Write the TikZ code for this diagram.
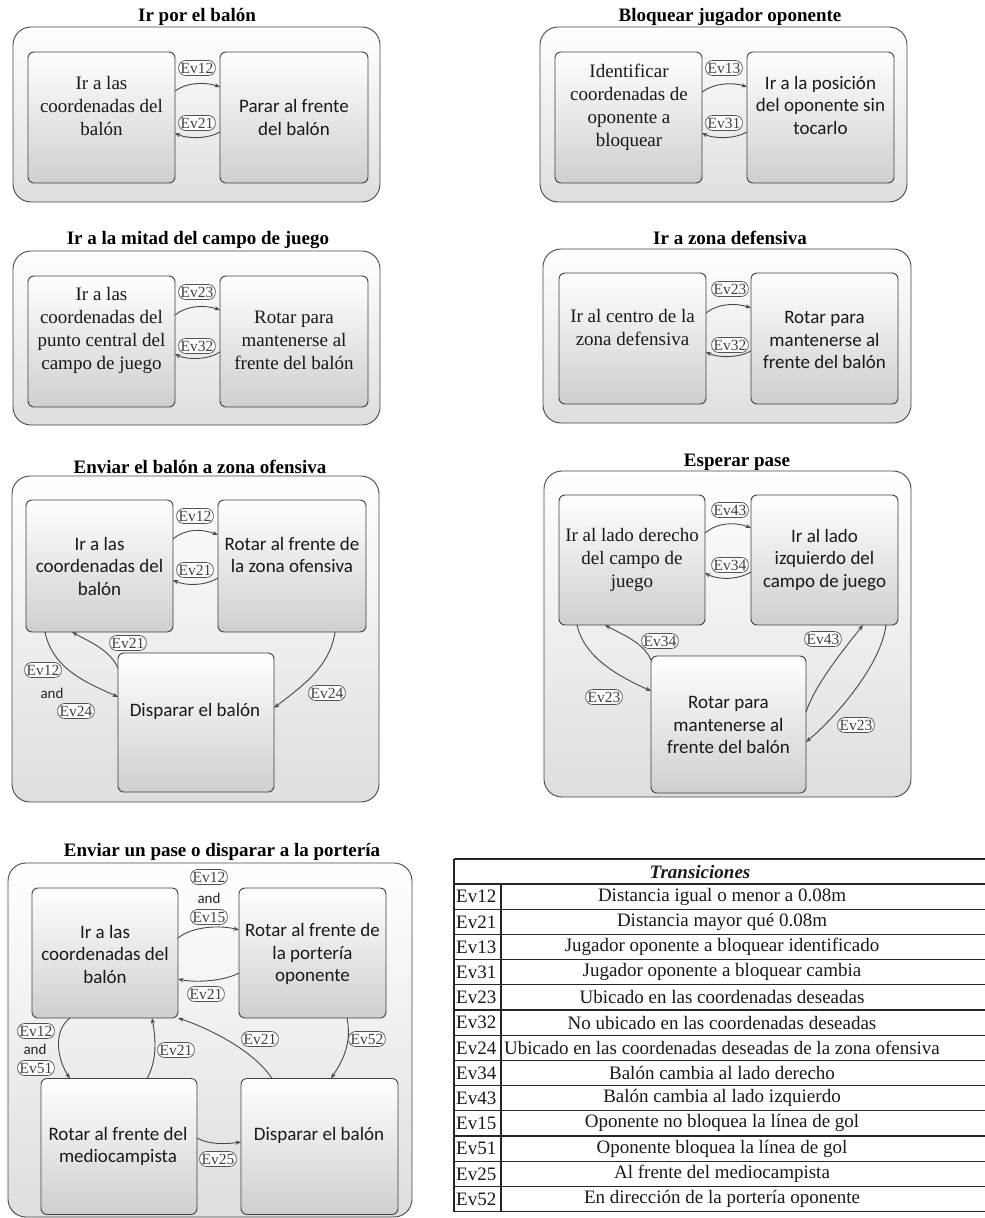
\documentclass[tikz,border=0pt]{standalone}
\usepackage{fontspec}
\setmainfont{Liberation Serif}
\newfontfamily\tms{Liberation Serif}
\newfontfamily\calib{Carlito}
\usetikzlibrary{arrows.meta}

\tikzset{
  panel/.style={draw=black!72, line width=0.9pt, rounded corners=18pt,
    top color=white, bottom color=black!13, inner sep=0pt, outer sep=0pt},
  stbox/.style={draw=black!75, line width=0.9pt, rounded corners=6pt,
    top color=white, bottom color=black!19, inner sep=0pt, outer sep=0pt},
  ptitle/.style={font=\tms\bfseries\fontsize{19}{22}\selectfont, text=black, inner sep=0pt},
  boxserif/.style={font=\tms\fontsize{19}{23}\selectfont, align=center, text=black!90, inner sep=0pt},
  boxsans/.style={font=\calib\fontsize{19}{22.5}\selectfont, align=center, text=black!90, inner sep=0pt},
  ev/.style={draw=black!68, line width=0.7pt, fill=white, rounded corners=7pt,
    font=\tms\fontsize{15.5}{15.5}\selectfont, inner xsep=2pt, inner ysep=0pt,
    minimum height=15pt, text=black!75},
  andtxt/.style={font=\calib\fontsize{15}{15}\selectfont, text=black!85, inner sep=0pt},
  trans/.style={draw=black!72, line width=0.9pt, -{Stealth[length=5.5pt,width=4.2pt]}},
  cell/.style={font=\tms\fontsize{19}{19}\selectfont, text=black!90, inner sep=0pt},
  tgrid/.style={draw=black!85, line width=1.2pt}
}

\begin{document}
\begin{tikzpicture}[x=1pt, y=-1pt]
\path[use as bounding box, fill=white] (0,0) rectangle (985,1218);

% ---------------- Ir por el balón ----------------
\node[ptitle] (ti1) at (197,17) {Ir por el balón};
\node[panel, minimum width=367pt, minimum height=175pt] (o1) at (196.5,114.5) {};
\node[stbox, minimum width=147pt, minimum height=131pt] (p1a) at (101.5,117.5) {};
\node[stbox, minimum width=148pt, minimum height=131pt] (p1b) at (294,117.5) {};
\node[boxserif] (t1a) at (101.5,106) {Ir a las\\coordenadas del\\balón};
\node[boxsans] (t1b) at (294,117.5) {Parar al frente\\del balón};
\draw[trans] (p1a.east |- 0,91) .. controls +(12,-9) and +(-14,-5) .. (p1b.west |- 0,87);
\draw[trans] (p1b.west |- 0,132) .. controls +(-12,7) and +(12,6) .. (p1a.east |- 0,133);
\node[ev] (e1a) at (197,68) {Ev12};
\node[ev] (e1b) at (197,123) {Ev21};

% ---------------- Bloquear jugador oponente ----------------
\node[ptitle] (ti2) at (730,17) {Bloquear jugador oponente};
\node[panel, minimum width=367pt, minimum height=175pt] (o2) at (723.5,114.5) {};
\node[stbox, minimum width=147pt, minimum height=131pt] (p2a) at (628.5,117.5) {};
\node[stbox, minimum width=147pt, minimum height=131pt] (p2b) at (820.5,117.5) {};
\node[boxserif] (t2a) at (629,107) {Identificar\\coordenadas de\\oponente a\\bloquear};
\node[boxsans] (t2b) at (820.5,105) {Ir a la posición\\del oponente sin\\tocarlo};
\draw[trans] (p2a.east |- 0,92) .. controls +(12,-9) and +(-14,-5) .. (p2b.west |- 0,87);
\draw[trans] (p2b.west |- 0,132) .. controls +(-12,7) and +(12,6) .. (p2a.east |- 0,133);
\node[ev] (e2a) at (724,68) {Ev13};
\node[ev] (e2b) at (724,123) {Ev31};

% ---------------- Ir a la mitad del campo de juego ----------------
\node[ptitle] (ti3) at (198,240) {Ir a la mitad del campo de juego};
\node[panel, minimum width=367pt, minimum height=174pt] (o3) at (196.5,338) {};
\node[stbox, minimum width=147pt, minimum height=131pt] (p3a) at (101.5,341.5) {};
\node[stbox, minimum width=148pt, minimum height=131pt] (p3b) at (294,341.5) {};
\node[boxserif] (t3a) at (101.5,330) {Ir a las\\coordenadas del\\punto central del\\campo de juego};
\node[boxserif] (t3b) at (294,340) {Rotar para\\mantenerse al\\frente del balón};
\draw[trans] (p3a.east |- 0,315) .. controls +(12,-10) and +(-14,-5) .. (p3b.west |- 0,310);
\draw[trans] (p3b.west |- 0,352) .. controls +(-12,8) and +(12,6) .. (p3a.east |- 0,354);
\node[ev] (e3a) at (197,292) {Ev23};
\node[ev] (e3b) at (197,346) {Ev32};

% ---------------- Ir a zona defensiva ----------------
\node[ptitle] (ti4) at (730,238) {Ir a zona defensiva};
\node[panel, minimum width=368pt, minimum height=174pt] (o4) at (727,336) {};
\node[stbox, minimum width=147pt, minimum height=131pt] (p4a) at (632.5,338.5) {};
\node[stbox, minimum width=147pt, minimum height=131pt] (p4b) at (824.5,338.5) {};
\node[boxserif] (t4a) at (632.5,327.5) {Ir al centro de la\\zona defensiva};
\node[boxsans] (t4b) at (824.5,340) {Rotar para\\mantenerse al\\frente del balón};
\draw[trans] (p4a.east |- 0,313) .. controls +(12,-10) and +(-14,-5) .. (p4b.west |- 0,308);
\draw[trans] (p4b.west |- 0,351) .. controls +(-12,7) and +(12,6) .. (p4a.east |- 0,352);
\node[ev] (e4a) at (730,289) {Ev23};
\node[ev] (e4b) at (730,345) {Ev32};

% ---------------- Enviar el balón a zona ofensiva ----------------
\node[ptitle] (ti5) at (200,467) {Enviar el balón a zona ofensiva};
\node[panel, minimum width=367pt, minimum height=326pt] (o5) at (195.5,639) {};
\node[stbox, minimum width=147pt, minimum height=132pt] (p5a) at (99.5,566) {};
\node[stbox, minimum width=148pt, minimum height=132pt] (p5b) at (292,566) {};
\node[stbox, minimum width=156pt, minimum height=139pt] (p5c) at (196,722.5) {};
\node[boxsans] (t5a) at (99.5,566) {Ir a las\\coordenadas del\\balón};
\node[boxsans] (t5b) at (292,555) {Rotar al frente de\\la zona ofensiva};
\node[boxsans] (t5c) at (195,711) {Disparar el balón};
\draw[trans] (p5a.east |- 0,539) .. controls +(13,-11) and +(-15,-6) .. (p5b.west |- 0,535);
\draw[trans] (p5b.west |- 0,578) .. controls +(-13,8) and +(13,6) .. (p5a.east |- 0,580);
\draw[trans] (p5a.south -| 45,0) .. controls +(8,38) and +(-30,-14) .. (p5c.west |- 0,697);
\draw[trans] (p5c.west |- 0,668) .. controls +(-8,-18) and +(18,10) .. (p5a.south -| 72,0);
\draw[trans] (p5b.south -| 335,0) .. controls +(-5,35) and +(28,-22) .. (p5c.east |- 0,708);
\node[ev] (e5a) at (195,516) {Ev12};
\node[ev] (e5b) at (195,570) {Ev21};
\node[ev] (e5c) at (43,670) {Ev12};
\node[andtxt] (a5) at (52,693) {and};
\node[ev] (e5d) at (76,711) {Ev24};
\node[ev] (e5e) at (128,643) {Ev21};
\node[ev] (e5f) at (327,693) {Ev24};

% ---------------- Esperar pase ----------------
\node[ptitle] (ti6) at (737,462) {Esperar pase};
\node[panel, minimum width=367pt, minimum height=326pt] (o6) at (727.5,634) {};
\node[stbox, minimum width=146pt, minimum height=130pt] (p6a) at (632,560) {};
\node[stbox, minimum width=147pt, minimum height=130pt] (p6b) at (824.5,560) {};
\node[stbox, minimum width=155pt, minimum height=137pt] (p6c) at (728.5,724.5) {};
\node[boxserif] (t6a) at (632,560) {Ir al lado derecho\\del campo de\\juego};
\node[boxsans] (t6b) at (824.5,560) {Ir al lado\\izquierdo del\\campo de juego};
\node[boxsans] (t6c) at (728.5,725) {Rotar para\\mantenerse al\\frente del balón};
\draw[trans] (p6a.east |- 0,533) .. controls +(13,-11) and +(-15,-6) .. (p6b.west |- 0,528);
\draw[trans] (p6b.west |- 0,572) .. controls +(-13,8) and +(13,7) .. (p6a.east |- 0,573);
\draw[trans] (p6a.south -| 577,0) .. controls +(8,35) and +(-28,-13) .. (p6c.west |- 0,691);
\draw[trans] (p6c.west |- 0,660) .. controls +(-8,-18) and +(18,10) .. (p6a.south -| 605,0);
\draw[trans] (p6c.east |- 0,712) .. controls +(10,-30) and +(-14,18) .. (p6b.south -| 863,0);
\draw[trans] (p6b.south -| 886,0) .. controls +(-5,40) and +(30,-25) .. (p6c.east |- 0,742);
\node[ev] (e6a) at (730,510) {Ev43};
\node[ev] (e6b) at (730,565) {Ev34};
\node[ev] (e6c) at (604,697) {Ev23};
\node[ev] (e6d) at (660,641) {Ev34};
\node[ev] (e6e) at (823,639) {Ev43};
\node[ev] (e6f) at (856,725) {Ev23};

% ---------------- Enviar un pase o disparar a la portería ----------------
\node[ptitle] (ti7) at (222,852) {Enviar un pase o disparar a la portería};
\node[panel, minimum width=404pt, minimum height=354pt] (o7) at (210,1040) {};
\node[stbox, minimum width=146pt, minimum height=130pt] (p7a) at (105,953) {};
\node[stbox, minimum width=147pt, minimum height=130pt] (p7b) at (312.5,953) {};
\node[stbox, minimum width=156pt, minimum height=136pt] (p7c) at (119,1146.5) {};
\node[stbox, minimum width=157pt, minimum height=136pt] (p7d) at (319.5,1146.5) {};
\node[boxsans] (t7a) at (105,954) {Ir a las\\coordenadas del\\balón};
\node[boxsans] (t7b) at (312.5,954) {Rotar al frente de\\la portería\\oponente};
\node[boxsans] (t7c) at (118,1146.5) {Rotar al frente del\\mediocampista};
\node[boxsans] (t7d) at (319,1135) {Disparar el balón};
\draw[trans] (p7a.east |- 0,938) .. controls +(15,-12) and +(-18,-5) .. (p7b.west |- 0,930);
\draw[trans] (p7b.west |- 0,973) .. controls +(-15,8) and +(18,4) .. (p7a.east |- 0,979);
\draw[trans] (p7a.south -| 70,0) .. controls +(-18,14) and +(-12,-18) .. (p7c.north -| 70,0);
\draw[trans] (p7c.north -| 147,0) .. controls +(10,-18) and +(4,22) .. (p7a.south -| 152,0);
\draw[trans] (p7d.north -| 272,0) .. controls +(-18,-28) and +(30,10) .. (p7a.south east);
\draw[trans] (p7b.south -| 347,0) .. controls +(5,25) and +(12,-18) .. (p7d.north -| 331,0);
\draw[trans] (p7c.east |- 0,1138) .. controls +(12,7) and +(-14,2) .. (p7d.west |- 0,1142);
\node[ev] (e7a) at (209,877) {Ev12};
\node[andtxt] (a7a) at (209,898) {and};
\node[ev] (e7b) at (209,917) {Ev15};
\node[ev] (e7c) at (206,994) {Ev21};
\node[ev] (e7d) at (36,1031) {Ev12};
\node[andtxt] (a7b) at (35,1049) {and};
\node[ev] (e7e) at (36,1068) {Ev51};
\node[ev] (e7f) at (176,1050) {Ev21};
\node[ev] (e7g) at (260,1039) {Ev21};
\node[ev] (e7h) at (367,1039) {Ev52};
\node[ev] (e7i) at (218,1159) {Ev25};

% ---------------- Transiciones table ----------------
\draw[tgrid] (454,859) -- (985,859);
\draw[tgrid] (454,884) -- (985,884);
\draw[tgrid] (454,859) -- (454,1212.2);
\draw[tgrid] (501,884) -- (501,1212.2);
\node[cell, font=\tms\bfseries\itshape\fontsize{19}{19}\selectfont] (th) at (700,871.5) {Transiciones};
\foreach \k/\d [count=\i] in {
  Ev12/Distancia igual o menor a 0.08m,
  Ev21/Distancia mayor qué 0.08m,
  Ev13/Jugador oponente a bloquear identificado,
  Ev31/Jugador oponente a bloquear cambia,
  Ev23/Ubicado en las coordenadas deseadas,
  Ev32/No ubicado en las coordenadas deseadas,
  Ev24/Ubicado en las coordenadas deseadas de la zona ofensiva,
  Ev34/Balón cambia al lado derecho,
  Ev43/Balón cambia al lado izquierdo,
  Ev15/Oponente no bloquea la línea de gol,
  Ev51/Oponente bloquea la línea de gol,
  Ev25/Al frente del mediocampista,
  Ev52/En dirección de la portería oponente}{
  \node[cell, anchor=west] (k\i) at (456,{884+25.2*\i-12.6}) {\k};
  \node[cell] (d\i) at (722,{884+25.2*\i-12.6}) {\d};
  \draw[tgrid] (454,{884+25.2*\i}) -- (985,{884+25.2*\i});
}
\end{tikzpicture}
\end{document}
